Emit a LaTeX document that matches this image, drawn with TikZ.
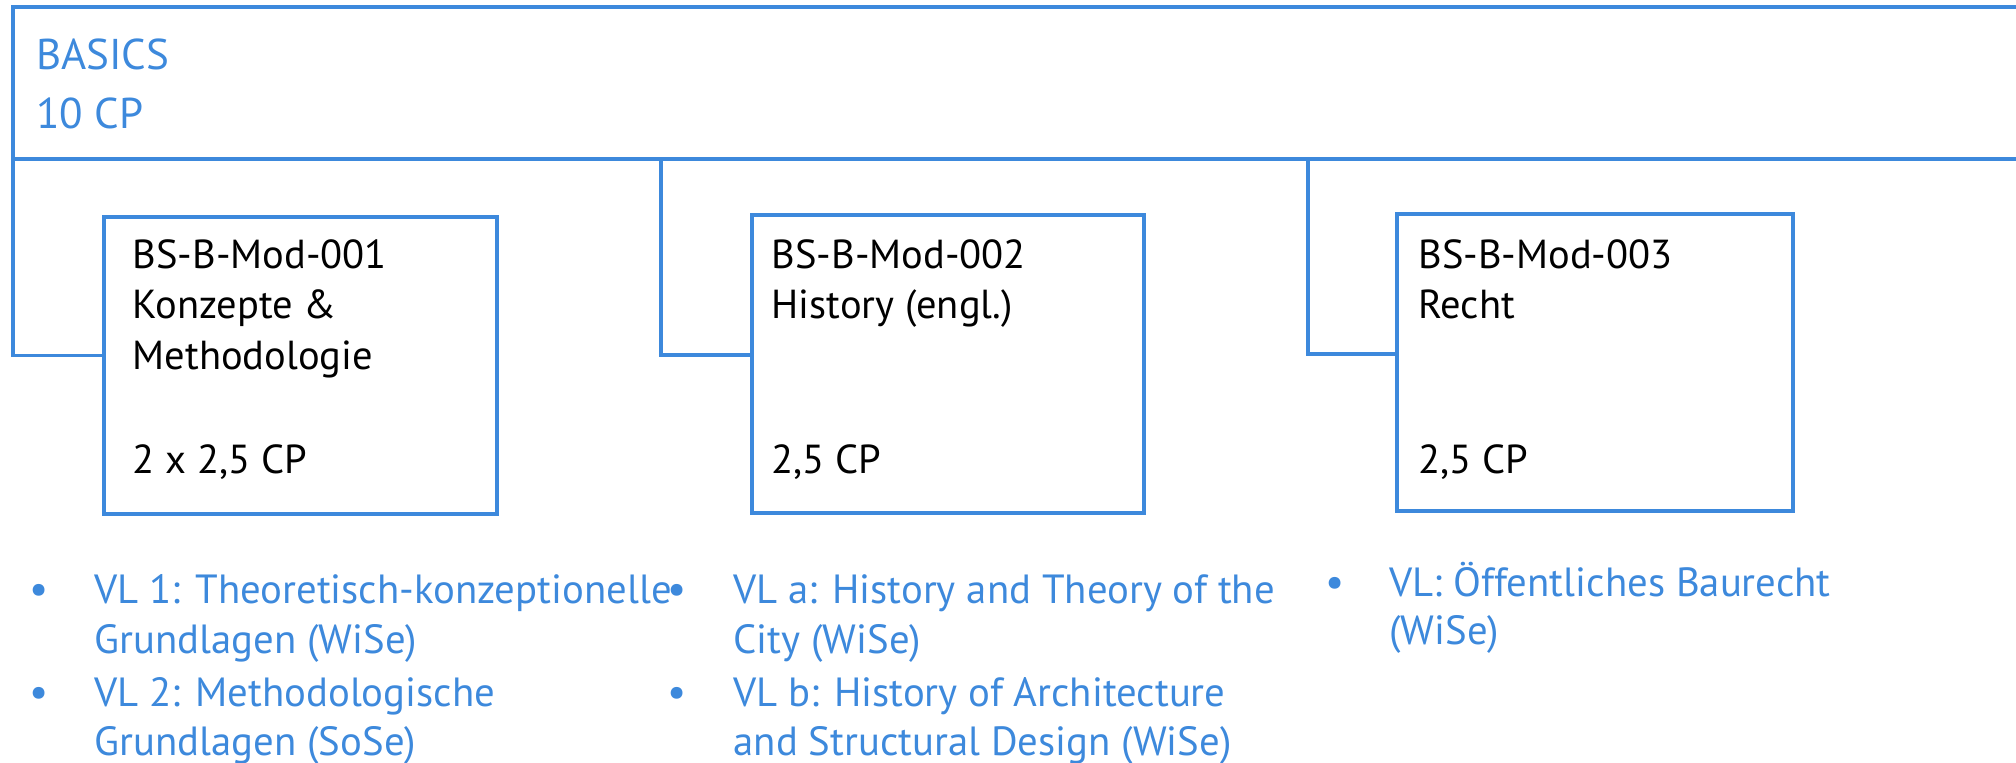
\documentclass[tikz,border=0pt]{standalone}
\usepackage{fontspec}
\setmainfont{PT Sans}
\definecolor{lineblue}{RGB}{61,137,220}
\definecolor{textblue}{RGB}{61,137,220}
\begin{document}
\begin{tikzpicture}[x=1pt,y=-1pt,
  frame/.style={draw=lineblue,line width=3.1pt,outer sep=0pt,inner sep=0pt,rectangle},
  modbox/.style={frame,anchor=north west,minimum width=306pt,minimum height=231.5pt},
  conn/.style={draw=lineblue,line width=3.1pt},
  hdrtxt/.style={anchor=base west,inner sep=0pt,text=textblue,font=\fontsize{33.5}{33.5}\selectfont},
  modtxt/.style={anchor=base west,inner sep=0pt,text=black,font=\fontsize{31.5}{31.5}\selectfont},
  bultxt/.style={anchor=base west,inner sep=0pt,text=textblue,font=\fontsize{31.7}{31.7}\selectfont},
  bulmark/.style={anchor=base,inner sep=0pt,text=textblue,font=\fontsize{33}{33}\selectfont}]
\useasboundingbox (0,0) rectangle (1568,593.4);
\clip (0,0) rectangle (1568,593.4);
% header
\node[frame,anchor=north west,minimum width=1600pt,minimum height=118.7pt] (hdr) at (10.4,5.2) {};
\node[hdrtxt] (h1) at (27.8,54.4) {BASICS};
\node[hdrtxt] (h2) at (27.8,99.8) {10 CP};
% module boxes
\node[modbox] (m1) at (80.6,168.5) {};
\node[modbox,minimum width=305pt] (m2) at (585,167.5) {};
\node[modbox,minimum width=308pt] (m3) at (1086.6,166.3) {};
% connectors
\coordinate (c1) at (10.4,123.9);
\coordinate (c2) at (513.9,123.9);
\coordinate (c3) at (1017,123.9);
\coordinate (e1) at (80.6,276.5);
\coordinate (e2) at (585,276);
\coordinate (e3) at (1086.6,275);
\draw[conn] (c1) |- (e1);
\draw[conn] (c2) |- (e2);
\draw[conn] (c3) |- (e3);
% module texts
\node[modtxt] (t11) at (103,208.5) {BS-B-Mod-001};
\node[modtxt] (t12) at (103,248) {Konzepte \&};
\node[modtxt] (t13) at (103,287.5) {Methodologie};
\node[modtxt] (t14) at (103,368.5) {2 x 2,5 CP};
\node[modtxt] (t21) at (600,208.5) {BS-B-Mod-002};
\node[modtxt] (t22) at (600,248) {History (engl.)};
\node[modtxt] (t24) at (600,368.5) {2,5 CP};
\node[modtxt] (t31) at (1103,208.5) {BS-B-Mod-003};
\node[modtxt] (t32) at (1103,248) {Recht};
\node[modtxt] (t34) at (1103,368.5) {2,5 CP};
% bullets column 1
\node[bulmark] (b11) at (30.7,469.3) {•};
\node[bultxt] (l11) at (73.4,469.3) {VL 1: Theoretisch-konzeptionelle};
\node[bultxt] (l12) at (73.4,508.3) {Grundlagen (WiSe)};
\node[bulmark] (b12) at (30.7,549.3) {•};
\node[bultxt] (l13) at (73.4,549.3) {VL 2: Methodologische};
\node[bultxt] (l14) at (73.4,587.5) {Grundlagen (SoSe)};
% bullets column 2
\node[bulmark] (b21) at (527,469.3) {•};
\node[bultxt] (l21) at (570.4,469.3) {VL a: History and Theory of the};
\node[bultxt] (l22) at (570.4,508.3) {City (WiSe)};
\node[bulmark] (b22) at (527,549.3) {•};
\node[bultxt] (l23) at (570.4,549.3) {VL b: History of Architecture};
\node[bultxt] (l24) at (570.4,587.5) {and Structural Design (WiSe)};
% bullets column 3
\node[bulmark] (b31) at (1038,464) {•};
\node[bultxt] (l31) at (1080.5,464) {VL: Öffentliches Baurecht};
\node[bultxt] (l32) at (1080.5,501) {(WiSe)};
\end{tikzpicture}
\end{document}
